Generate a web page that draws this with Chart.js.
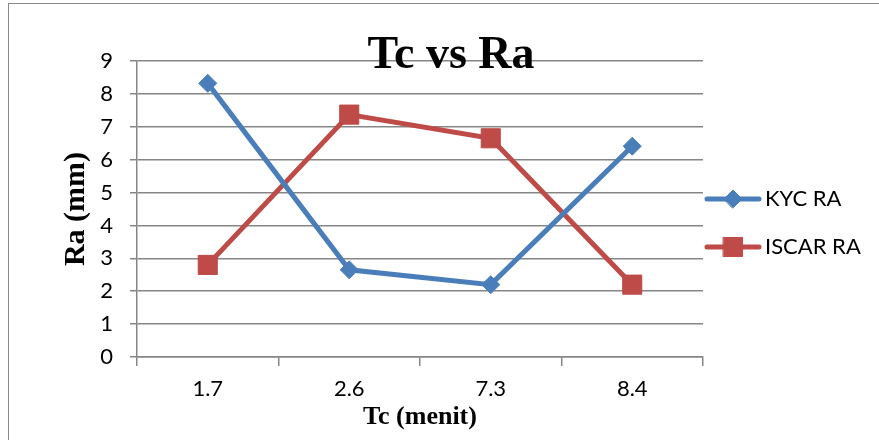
<!DOCTYPE html>
<html>
<head>
<meta charset="utf-8">
<script src="https://cdn.jsdelivr.net/npm/chart.js@4.4.1/dist/chart.umd.min.js"></script>
<style>
  html, body { margin: 0; padding: 0; background: #fff; overflow: hidden; }
  #frame { position: absolute; left: 8px; top: 3px; width: 2000px; height: 2000px; border: 1.5px solid #8a8a8a; }
  #wrap { position: absolute; left: 0; top: 0; width: 879px; height: 440px; }
</style>
</head>
<body>
<div id="frame"></div>
<div id="wrap"><canvas id="myChart"></canvas></div>
<script>
// data
const categories = ['1.7', '2.6', '7.3', '8.4'];
const kycRa = [8.32, 2.65, 2.2, 6.41];
const iscarRa = [2.8, 7.37, 6.65, 2.2];
const yTicks = [0, 1, 2, 3, 4, 5, 6, 7, 8, 9];

const blue = '#4a7ebb';
const red = '#be4b48';
const gridGray = '#868686';
const tickFont = { family: 'Lato', size: 22 };

// title + legend drawn like the Excel original
const extras = {
    id: 'extras',
    afterDraw(chart) {
        let ctx = chart.ctx;
        ctx.save();
        ctx.fillStyle = '#000';
        ctx.font = 'bold 46px "Liberation Serif"';
        ctx.textAlign = 'center';
        ctx.textBaseline = 'alphabetic';
        ctx.fillText('Tc vs Ra', 451, 68);

        let items = [
            { label: 'KYC RA', color: blue, style: 'rectRot', r: 9, y: 199 },
            { label: 'ISCAR RA', color: red, style: 'rect', r: 13.5, y: 247 }
        ];
        items.forEach(function(it) {
            ctx.strokeStyle = it.color;
            ctx.lineWidth = 5;
            ctx.lineCap = 'round';
            ctx.beginPath();
            ctx.moveTo(707, it.y);
            ctx.lineTo(759, it.y);
            ctx.stroke();
            ctx.fillStyle = it.color;
            ctx.lineWidth = 1;
            Chart.helpers.drawPoint(ctx, { pointStyle: it.style, radius: it.r, borderWidth: 1 }, 733, it.y);
            ctx.fillStyle = '#000';
            ctx.font = '22px Lato';
            ctx.textAlign = 'left';
            ctx.textBaseline = 'middle';
            ctx.fillText(it.label, 765, it.y);
        });
        ctx.restore();
    }
};

function chart() {
    if (document.getElementById('myChart')) {
        let ctx = document.getElementById('myChart');
        let myChart = new Chart(ctx, {
            type: 'line',
            data: {
                labels: categories,
                datasets: [{
                    label: 'KYC RA',
                    data: kycRa,
                    borderColor: blue,
                    backgroundColor: blue,
                    borderWidth: 5,
                    pointStyle: 'rectRot',
                    pointRadius: 9,
                    pointHoverRadius: 9,
                    pointBorderWidth: 1,
                    tension: 0
                }, {
                    label: 'ISCAR RA',
                    data: iscarRa,
                    borderColor: red,
                    backgroundColor: red,
                    borderWidth: 5,
                    pointStyle: 'rect',
                    pointRadius: 13.5,
                    pointHoverRadius: 13.5,
                    pointBorderWidth: 1,
                    tension: 0
                }]
            },
            options: {
                responsive: true,
                maintainAspectRatio: false,
                animation: false,
                devicePixelRatio: 1,
                layout: { padding: { left: 0, top: 61, right: 176, bottom: 0 } },
                plugins: {
                    legend: { display: false },
                    title: { display: false },
                    tooltip: { enabled: false }
                },
                scales: {
                    x: {
                        offset: true,
                        afterFit: function(s) { s.height = 83; },
                        grid: { offset: true, drawOnChartArea: false, drawTicks: true, tickLength: 9, color: gridGray, lineWidth: 1.5 },
                        border: { display: true, color: gridGray, width: 1.5 },
                        ticks: { color: '#000', font: tickFont, padding: 10, maxRotation: 0 },
                        title: {
                            display: true,
                            text: 'Tc (menit)',
                            color: '#000',
                            font: { family: 'Liberation Serif', size: 26, weight: 'bold' },
                            padding: { top: 0, bottom: 7 }
                        }
                    },
                    y: {
                        min: 0,
                        max: 9,
                        afterFit: function(s) { s.width = 137; },
                        afterBuildTicks: function(s) { s.ticks = yTicks.map(function(v) { return { value: v }; }); },
                        grid: { drawTicks: true, tickLength: 7, color: gridGray, lineWidth: 1.5 },
                        border: { display: true, color: gridGray, width: 1.5 },
                        ticks: { color: '#000', font: tickFont, padding: 17 },
                        title: {
                            display: true,
                            text: 'Ra (mm)',
                            color: '#000',
                            font: { family: 'Liberation Serif', size: 30, weight: 'bold' },
                            padding: { top: 58, bottom: 0 }
                        }
                    }
                }
            },
            plugins: [extras]
        });
    }
}
chart();
</script>
</body>
</html>
